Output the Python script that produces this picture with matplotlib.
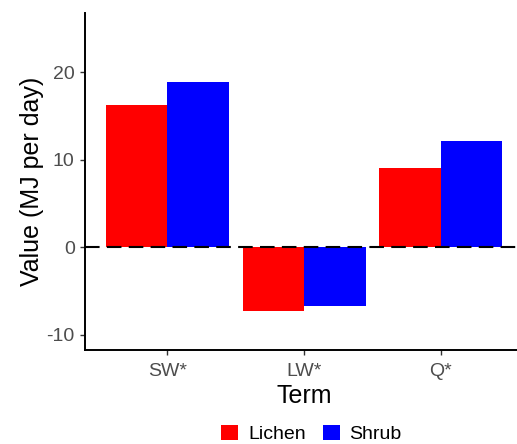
import numpy as np
import matplotlib
matplotlib.use("Agg")
import matplotlib.pyplot as plt
from matplotlib.patches import Patch

# values
terms = ["SW*", "LW*", "Q*"]
groups = ["Lichen", "Shrub"]
lichen = [16.3, -7.3, 9.05]
shrub = [18.95, -6.7, 12.2]
colours = {"Lichen": "#FF0000", "Shrub": "#0000FF"}
yticks = [-10, 0, 10, 20]

plt.rcParams['font.family'] = ['Liberation Sans', 'DejaVu Sans']
plt.rcParams['axes.unicode_minus'] = False

fig = plt.figure(figsize=(5.17, 4.44), dpi=100)
W, H = 517, 444
ax = fig.add_axes([85.3 / W, (H - 350) / H, (523 - 85.3) / W, (350 - 13.3) / H])

x = np.arange(1, len(terms) + 1)
w = 0.45
ax.bar(x - w / 2, lichen, width=w, color=colours["Lichen"], linewidth=0)
ax.bar(x + w / 2, shrub, width=w, color=colours["Shrub"], linewidth=0)

ax.axhline(0, color="black", lw=1.5, linestyle=(0, (7, 3.5)), zorder=3)

ax.set_xlim(0.4, 3.6)
ax.set_ylim(-11.75, 26.75)
ax.set_xticks(x)
ax.set_xticklabels(terms)
ax.set_yticks(yticks)

for s in ["top", "right"]:
    ax.spines[s].set_visible(False)
for s in ["left", "bottom"]:
    ax.spines[s].set_linewidth(1.4)
    ax.spines[s].set_color("black")

ax.tick_params(axis="both", length=3.6, width=1.0, color="#333333",
               labelsize=14, labelcolor="#4D4D4D")
ax.tick_params(axis="y", pad=4)
ax.tick_params(axis="x", pad=5.5)

ax.set_xlabel("Term", fontsize=18, labelpad=3)
ax.set_ylabel("Value (MJ per day)", fontsize=18, labelpad=2)

handles = [Patch(facecolor=colours[g], edgecolor="none", label=g) for g in groups]
fig.legend(handles=handles, loc="center", bbox_to_anchor=(311.5 / W, (H - 434) / H),
           ncol=2, frameon=False, fontsize=14, handlelength=0.87, handleheight=0.87,
           handletextpad=0.51, columnspacing=0.87, borderpad=0, borderaxespad=0)

fig.savefig("out.png", dpi=100)
